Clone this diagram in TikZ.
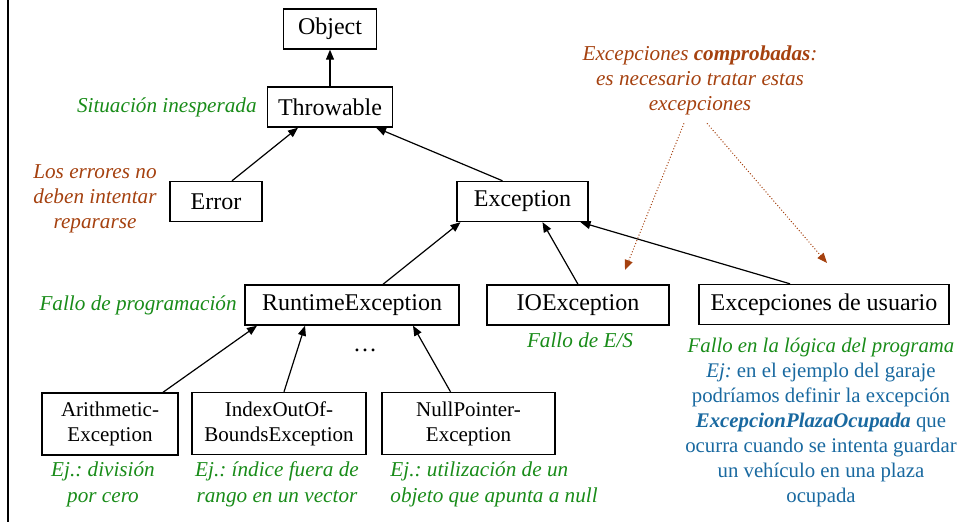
\documentclass[tikz,border=0pt]{standalone}
\usepackage{fontspec}
\setmainfont{LiberationSerif}[Extension=.ttf, UprightFont=*-Regular, BoldFont=*-Bold,
    ItalicFont=*-Italic, BoldItalicFont=*-BoldItalic]
\usepackage{xcolor}
\usetikzlibrary{arrows.meta}
\frenchspacing

\definecolor{notegreen}{RGB}{25,140,25}
\definecolor{notebrown}{RGB}{165,65,15}
\definecolor{noteblue}{RGB}{25,105,160}

\tikzset{
    classbox/.style={draw, line width=0.7pt, inner sep=0pt, minimum height=20pt,
        align=center, font=\fontsize{12}{13}\selectfont},
    tallbox/.style={classbox, minimum height=31pt, font=\fontsize{10.5}{12.5}\selectfont},
    note/.style={inner sep=0pt, align=center, font=\fontsize{10.6}{12.4}\selectfont\itshape},
    inherit/.style={-{Triangle[length=5pt,width=4pt]}, line width=0.6pt},
    checkarrow/.style={-{Triangle[length=5pt,width=4pt]}, densely dotted, line width=0.5pt, notebrown}
}

\begin{document}
\begin{tikzpicture}[x=0.5pt,y=-0.5pt]

        \useasboundingbox (0,0) rectangle (963,522);

        %slide border on the left
        \draw [line width=1pt] (8,0) -- (8,522);

        %Class hierarchy
        \node [classbox, minimum width=46.5pt] (object) at (330,29) {Object};
        \node [classbox, minimum width=62.5pt] (throwable) at (330,107) {Throwable};
        \node [classbox, minimum width=46pt] (error) at (216,201.5) {Error};
        \node [classbox, minimum width=65.5pt] (exception) at (522.5,201.5) {Exception};
        \node [classbox, minimum width=107pt] (runtime) at (352,305) {RuntimeException};
        \node [classbox, minimum width=91pt] (ioexc) at (578,305) {IOException};
        \node [classbox, minimum width=125pt] (userexc) at (824,304.5) {Excepciones de usuario};

        %Runtime subclasses
        \node [tallbox, minimum width=68pt] (arith) at (110,424) {Arithmetic-\\Exception};
        \node [tallbox, minimum width=87pt] (index) at (279,423.5) {IndexOutOf-\\BoundsException};
        \node [tallbox, minimum width=86.5pt] (nullptr) at (468.5,423.5) {NullPointer-\\Exception};
        \node [classbox, draw=none] (dots) at (365,350) {\dots};

        %Inheritance arrows
        \draw [inherit] (throwable.north) -- (object.south);
        \draw [inherit] ([xshift=8pt]error.north) -- ([xshift=-16pt]throwable.south);
        \draw [inherit] ([xshift=-10pt]exception.north) -- ([xshift=23pt]throwable.south);
        \draw [inherit] ([xshift=15.5pt]runtime.north) -- ([xshift=-31pt]exception.south);
        \draw [inherit] (ioexc.north) -- ([xshift=10pt]exception.south);
        \draw [inherit] ([xshift=-17pt]userexc.north) -- ([xshift=29pt]exception.south);
        \draw [inherit] ([xshift=26.5pt]arith.north) -- ([xshift=-47.5pt]runtime.south);
        \draw [inherit] ([xshift=2.5pt]index.north) -- ([xshift=-23.5pt]runtime.south);
        \draw [inherit] ([xshift=-9pt]nullptr.north) -- ([xshift=30.5pt]runtime.south);

        %Notes in green
        \node [note, notegreen, anchor=east] (unexpected) at (257,107) {Situación inesperada};
        \node [note, notegreen, anchor=east] (progfail) at (237,305) {Fallo de programación};
        \node [note, notegreen] (iofail) at (580,340) {Fallo de E/S};
        \node [note, notegreen, font=\fontsize{10.6}{12.9}\selectfont\itshape] (arithnote) at (103,484) {Ej.: división\\por cero};
        \node [note, notegreen, font=\fontsize{10.6}{12.9}\selectfont\itshape] (indexnote) at (277,484) {Ej.: índice fuera de\\rango en un vector};
        \node [note, notegreen, font=\fontsize{10.6}{12.9}\selectfont\itshape, anchor=west, align=left] (nullnote) at (390,484) {Ej.: utilización de un\\objeto que apunta a null};

        %Notes in brown
        \node [note, notebrown] (errnote) at (95,199) {Los errores no\\deben intentar\\repararse};
        \node [note, notebrown] (checked) at (700,80.5) {Excepciones \textbf{comprobadas}:\\es necesario tratar estas\\excepciones};

        %Dotted arrows from the checked note
        \coordinate (checkA) at (625,270);
        \coordinate (checkB) at (827,263);
        \draw [checkarrow] ([xshift=-8pt,yshift=-4pt]checked.south) -- (checkA);
        \draw [checkarrow] ([xshift=3.5pt,yshift=-4pt]checked.south) -- (checkB);

        %User exception example
        \node [note, font=\fontsize{10.4}{12.5}\selectfont] (usernote) at (821,422)
            {\textcolor{notegreen}{\itshape Fallo en la lógica del programa}\\
             \color{noteblue}\textit{Ej:} en el ejemplo del garaje\\
             \color{noteblue}podríamos definir la excepción\\
             \color{noteblue}\textbf{\textit{ExcepcionPlazaOcupada}} que\\
             \color{noteblue}ocurra cuando se intenta guardar\\
             \color{noteblue}un vehículo en una plaza\\
             \color{noteblue}ocupada};

\end{tikzpicture}
\end{document}
